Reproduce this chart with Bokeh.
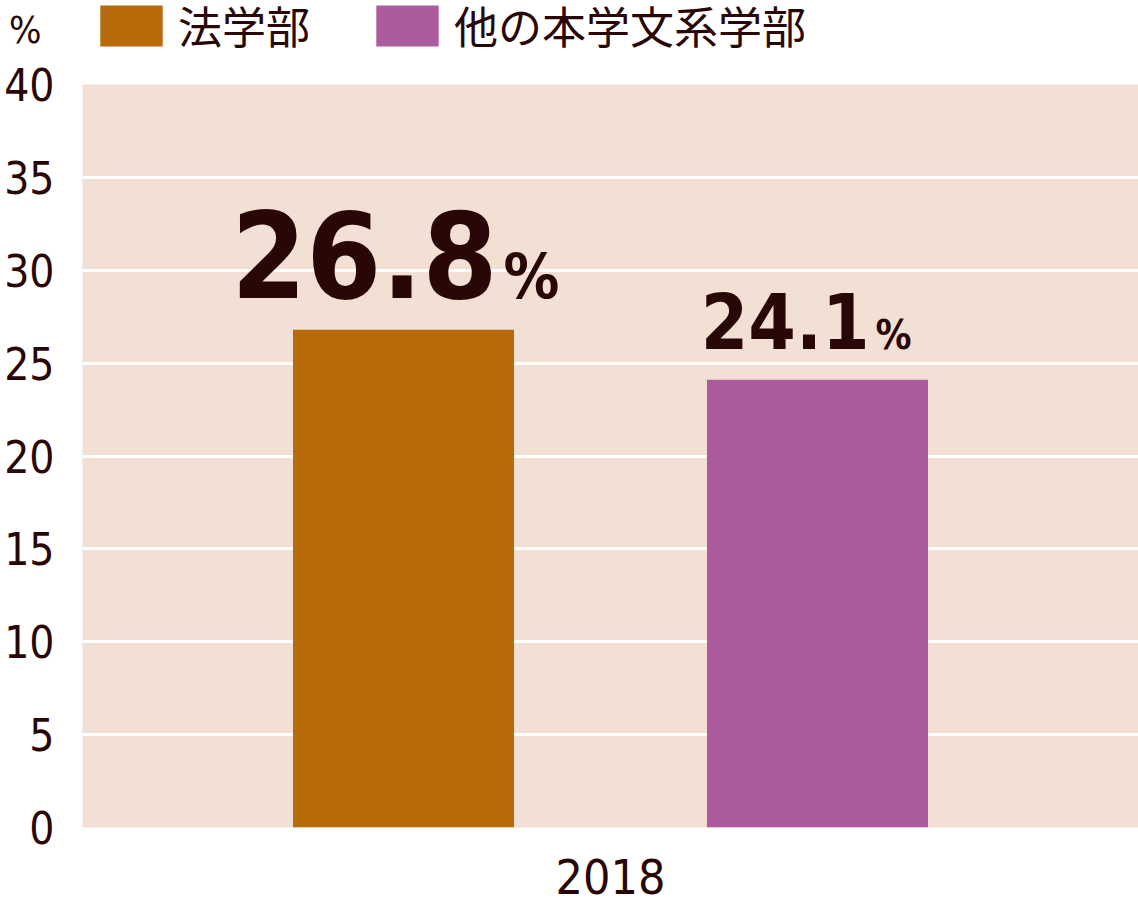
from bokeh.plotting import figure
from bokeh.layouts import column
from bokeh.models import (ColumnDataSource, FactorRange, Range1d, Legend, LegendItem,
                          FixedTicker, CategoricalAxis)
from bokeh.core.properties import value
from bokeh.embed import file_html
from bokeh.resources import INLINE

# ---- data ----
years = ["2018"]
depts = ["法学部", "他の本学文系学部"]
rates = [26.8, 24.1]
y_ticks = [0, 5, 10, 15, 20, 25, 30, 35, 40]
unit = "%"

# ---- styles ----
colors = ["#b76b0b", "#ac5c9e"]
num_sizes = ["120px", "76px"]
pct_sizes = ["62px", "40px"]
num_xoff = [94, 52]
pct_xoff = [100, 58]
num_yoff = [-76, -59]
pct_yoff = [-53, -45]
TXT = "#2a0707"
NARROW = "DejaVu Sans Condensed"
CJK = "Noto Sans CJK JP"

W = 1138
HEAD_H = 58
MAIN_H = 848

source = ColumnDataSource(dict(
    x=depts,
    rate=rates,
    label=[f"{r:.1f}" for r in rates],
    pct=[unit] * len(rates),
    color=colors,
    num_size=num_sizes,
    pct_size=pct_sizes,
    num_xoff=num_xoff,
    pct_xoff=pct_xoff,
    num_yoff=num_yoff,
    pct_yoff=pct_yoff,
))

# ---------- header (legend + unit) ----------
head = figure(width=W, height=HEAD_H, x_range=FactorRange(*depts), y_range=Range1d(100, 101),
              x_axis_location=None, y_axis_location="left", min_border=0,
              output_backend="svg", toolbar_location=None)
head.outline_line_color = None
head.grid.visible = False
head.yaxis.ticker = FixedTicker(ticks=[])
head.yaxis.axis_label = unit
head.yaxis.axis_label_orientation = "horizontal"
head.yaxis.axis_label_standoff = 41
head.yaxis.axis_label_text_font = NARROW
head.yaxis.axis_label_text_font_style = "normal"
head.yaxis.axis_label_text_font_size = "38px"
head.yaxis.axis_label_text_color = TXT
head.yaxis.axis_line_color = None
head.yaxis.major_tick_line_color = None
head.yaxis.minor_tick_line_color = None
head.yaxis.major_tick_out = 0
head.yaxis.major_tick_in = 0
head.yaxis.minor_tick_out = 0

hr = head.vbar(x="x", top="rate", width=0.5, fill_color="color", line_color=None, source=source)
legend = Legend(items=[LegendItem(label=d, renderers=[hr], index=i) for i, d in enumerate(depts)],
                orientation="horizontal", location=(10, 1),
                border_line_color=None, background_fill_alpha=0,
                glyph_width=78, glyph_height=51, label_height=51,
                label_text_font=CJK, label_text_font_size="44px", label_text_color=TXT,
                label_text_line_height=1.0,
                label_standoff=8, spacing=58, padding=0, margin=0)
head.add_layout(legend, "center")

# ---------- main chart ----------
p = figure(width=W, height=MAIN_H,
           x_range=FactorRange(*depts, range_padding=0.2755, range_padding_units="absolute"),
           y_range=Range1d(0, 40),
           x_axis_location=None,
           output_backend="svg", toolbar_location=None,
           min_border_left=82, min_border_right=0, min_border_top=26, min_border_bottom=79)
p.background_fill_color = "#f3e0d4"
p.border_fill_color = "white"
p.outline_line_color = None

r = p.vbar(x="x", top="rate", width=0.534, fill_color="color", line_color=None, source=source)

p.text(x="x", y="rate", text="label", source=source, text_align="right",
       text_baseline="alphabetic", x_offset="num_xoff", y_offset="num_yoff",
       text_font=value(NARROW), text_font_style="bold",
       text_font_size="num_size", text_color=TXT)
p.text(x="x", y="rate", text="pct", source=source, text_align="left",
       text_baseline="alphabetic", x_offset="pct_xoff", y_offset="pct_yoff",
       text_font=value(NARROW), text_font_style="bold",
       text_font_size="pct_size", text_color=TXT)

p.yaxis.ticker = FixedTicker(ticks=y_ticks)
p.yaxis.major_label_text_font = NARROW
p.yaxis.major_label_text_font_size = "44px"
p.yaxis.major_label_text_color = TXT
p.yaxis.major_label_standoff = 28
p.yaxis.axis_line_color = None
p.yaxis.major_tick_line_color = None
p.yaxis.minor_tick_line_color = None
p.yaxis.major_tick_out = 0
p.yaxis.major_tick_in = 0
p.yaxis.minor_tick_out = 0

p.extra_x_ranges = {"year": FactorRange(*years, range_padding=0)}
xa = CategoricalAxis(x_range_name="year")
xa.major_label_text_font = NARROW
xa.major_label_text_font_size = "48px"
xa.major_label_text_color = TXT
xa.major_label_text_line_height = 0.8
xa.major_label_standoff = 31
xa.axis_line_color = None
xa.major_tick_line_color = None
xa.minor_tick_line_color = None
xa.major_tick_out = 0
xa.major_tick_in = 0
p.add_layout(xa, "below")

p.xgrid.visible = False
p.ygrid.ticker = FixedTicker(ticks=y_ticks[1:-1])
p.ygrid.grid_line_color = "white"
p.ygrid.grid_line_width = 3

layout = column(head, p, spacing=0)
open("out.html", "w").write(file_html(layout, INLINE))
